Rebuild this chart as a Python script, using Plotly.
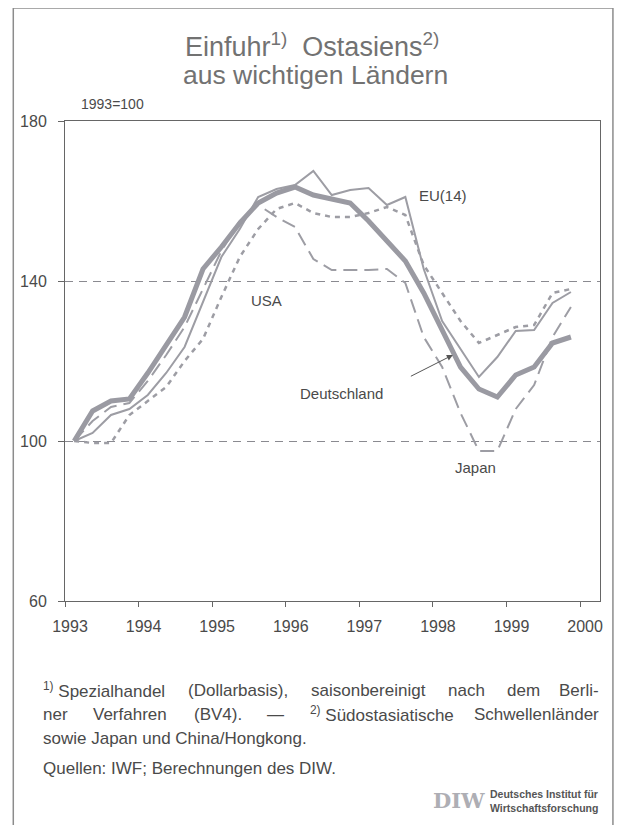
import plotly.graph_objects as go

# quarterly observations (mid-quarter positions), 1993 Q1 .. 1999 Q4
quarters = [1993.125, 1993.375, 1993.625, 1993.875,
            1994.125, 1994.375, 1994.625, 1994.875,
            1995.125, 1995.375, 1995.625, 1995.875,
            1996.125, 1996.375, 1996.625, 1996.875,
            1997.125, 1997.375, 1997.625, 1997.875,
            1998.125, 1998.375, 1998.625, 1998.875,
            1999.125, 1999.375, 1999.625, 1999.875]

deutschland = [100, 107.5, 110, 110.5, 117, 124, 131, 143, 148.5, 154.5, 159.5, 162,
               163.5, 161.5, 160.5, 159.5, 155, 150, 145, 137, 128, 118.5, 113, 111,
               116.5, 118.5, 124.5, 126]
eu14 = [100, 102, 106.5, 108, 111.5, 117, 123.5, 135, 146, 153, 161, 163,
        164, 167.5, 161.5, 162.75, 163.25, 159, 161, 143, 130, 123, 116, 121,
        127.5, 127.75, 134.5, 137.25]
usa = [100, 99.5, 99.5, 106.5, 110, 113.5, 120, 125.5, 136, 146, 153, 158,
       159.5, 157, 156, 156, 157, 158.5, 156.5, 144, 137, 130, 124.5, 126.5,
       128.5, 129, 137, 138]
japan = [100, 105, 108.5, 109.5, 115, 121.5, 128.5, 138, 147.5, 155, 159, 156,
         153.5, 145.5, 142.75, 142.75, 142.75, 143, 139.5, 126, 118.5, 107, 97.5, 97.5,
         108, 114, 126, 133.5]

year_ticks = [1993, 1994, 1995, 1996, 1997, 1998, 1999, 2000]
year_labels = ["1993", "1994", "1995", "1996", "1997", "1998", "1999", "2000"]
y_ticks = [60, 100, 140, 180]
y_labels = ["60", "100", "140", "180"]

LINE = "#9d9da4"
TXT = "#4a4a4a"
FONT = "Liberation Sans, Arial, sans-serif"

fig = go.Figure()
fig.add_trace(go.Scatter(x=quarters, y=japan, mode="lines", name="Japan",
                         line=dict(color=LINE, width=2, dash="14px,7px")))
fig.add_trace(go.Scatter(x=quarters, y=usa, mode="lines", name="USA",
                         line=dict(color=LINE, width=2.5, dash="5px,5px")))
fig.add_trace(go.Scatter(x=quarters, y=eu14, mode="lines", name="EU(14)",
                         line=dict(color=LINE, width=2)))
fig.add_trace(go.Scatter(x=quarters, y=deutschland, mode="lines", name="Deutschland",
                         line=dict(color="#9a9aa2", width=5)))

# page has an 8px body margin; plot area on page: x 62..600, y 121..601
OFF = 8
W, H = 623 - OFF, 825 - OFF
PL, PT, PW, PH = 62, 121, 538, 480
L, T = PL - OFF, PT - OFF
R, B = W - L - PW, H - T - PH


def px(x):
    return (x - PL) / PW


def py(y):
    return (PT + PH - y) / PH


fig.update_layout(
    width=W, height=H,
    margin=dict(l=L, r=R, t=T, b=B, pad=0),
    paper_bgcolor="white", plot_bgcolor="white",
    showlegend=False,
    font=dict(family=FONT, color=TXT, size=16),
    xaxis=dict(range=[1993, 1993 + PW / 74.0], tickvals=year_ticks, ticktext=year_labels,
               showgrid=False, zeroline=False, showline=True, mirror=True,
               linecolor="#666", linewidth=1, ticks="outside", ticklen=5,
               tickcolor="#666", tickfont=dict(size=16, color=TXT),
               ticklabelshift=5, ticklabelstandoff=6),
    yaxis=dict(range=[60, 180], tickvals=y_ticks, ticktext=y_labels,
               showgrid=True, gridcolor="#8a8a90", griddash="8px,6px", gridwidth=1,
               zeroline=False, showline=True, mirror=True,
               linecolor="#666", linewidth=1, ticks="outside", ticklen=6,
               tickcolor="#666", tickfont=dict(size=16, color=TXT),
               ticklabelstandoff=8),
)

# Arial / Liberation Sans advance widths (1/1000 em) for text justification
CW = {" ": 278, "a": 556, "b": 556, "c": 500, "d": 556, "e": 556, "f": 278, "g": 556,
      "h": 556, "i": 222, "j": 222, "k": 500, "l": 222, "m": 833, "n": 556, "o": 556,
      "p": 556, "q": 556, "r": 333, "s": 500, "t": 278, "u": 556, "v": 500, "w": 722,
      "x": 500, "y": 500, "z": 500, "ü": 556, "ä": 556, "B": 667, "C": 722, "D": 722,
      "F": 611, "H": 722, "I": 278, "J": 500, "S": 667, "V": 667, "W": 944, "Q": 778,
      "(": 333, ")": 333, ",": 278, ".": 278, "-": 333, "/": 278, ";": 278, ":": 278,
      "—": 1000}


def tw(s, size):
    return sum(CW.get(c, 556) for c in s) / 1000.0 * size


FS = 17
ann = []


def justified(tokens, y, x0=38, x1=601):
    # tokens: list of (markup, width)
    total = sum(w for _, w in tokens)
    gap = (x1 - x0 - total) / (len(tokens) - 1)
    x = x0
    for k, (t, w) in enumerate(tokens):
        last = k == len(tokens) - 1
        ann.append(dict(text=t, x=px(x1 if last else x), y=py(y), xref="paper", yref="paper",
                        xanchor="right" if last else "left", yanchor="middle",
                        showarrow=False, font=dict(size=FS, color=TXT)))
        x += w + gap


def plain(words):
    return [(w, tw(w, FS)) for w in words]


sup1 = ("<sup>1)</sup> Spezialhandel", tw("1)", FS) * 0.7 + tw(" Spezialhandel", FS))
justified([sup1] + plain(["(Dollarbasis),", "saisonbereinigt", "nach", "dem", "Berli-"]), 690)
sup2 = ("<sup>2)</sup> Südostasiatische", tw("2)", FS) * 0.7 + tw(" Südostasiatische", FS))
justified(plain(["ner", "Verfahren", "(BV4).", "—"]) + [sup2] + plain(["Schwellenländer"]), 714)
ann.append(dict(text="sowie Japan und China/Hongkong.", x=px(38), y=py(738), xref="paper",
                yref="paper", xanchor="left", yanchor="middle", showarrow=False,
                font=dict(size=FS, color=TXT)))
ann.append(dict(text="Quellen: IWF; Berechnungen des DIW.", x=px(38), y=py(768), xref="paper",
                yref="paper", xanchor="left", yanchor="middle", showarrow=False,
                font=dict(size=FS, color=TXT)))

# title
ann.append(dict(text="Einfuhr<sup>1)</sup>\u00a0 Ostasiens<sup>2)</sup>", x=px(310), y=py(45),
                xref="paper", yref="paper", xanchor="center", yanchor="middle", showarrow=False,
                font=dict(size=27, color="#727272")))
ann.append(dict(text="aus wichtigen Ländern", x=px(314), y=py(75),
                xref="paper", yref="paper", xanchor="center", yanchor="middle", showarrow=False,
                font=dict(size=26.5, color="#727272")))
ann.append(dict(text="1993=100", x=px(76), y=py(104), xref="paper", yref="paper",
                xanchor="left", yanchor="middle", showarrow=False, font=dict(size=14, color=TXT)))

# series labels
for t, xv, yv in [("EU(14)", 1998.135, 161.5), ("USA", 1995.74, 135.25),
                  ("Deutschland", 1996.76, 112), ("Japan", 1998.58, 93.5)]:
    ann.append(dict(text=t, x=xv, y=yv, xanchor="center", yanchor="middle", showarrow=False,
                    font=dict(size=15, color=TXT)))
ann.append(dict(text="", x=1998.27, y=121.5, ax=1997.68, ay=116, axref="x", ayref="y",
                showarrow=True, arrowhead=2, arrowsize=1.2, arrowwidth=1, arrowcolor="#555"))

# DIW logo
ann.append(dict(text="<b>DIW</b>", x=px(458), y=py(800), xref="paper", yref="paper",
                xanchor="center", yanchor="middle", showarrow=False,
                font=dict(size=21, color="#aeaeb4", family="DejaVu Serif, serif")))
ann.append(dict(text="<b>Deutsches Institut für</b><br><b>Wirtschaftsforschung</b>", x=px(487),
                y=py(801), xref="paper", yref="paper", xanchor="left", yanchor="middle",
                align="left", showarrow=False, font=dict(size=10.5, color="#555")))
fig.update_layout(annotations=ann)

# outer frame
frame = dict(type="line", xref="paper", yref="paper", line=dict(color="#8c8c8c", width=1.5))
fig.add_shape(**frame, x0=px(10), x1=px(613), y0=py(8), y1=py(8))
fig.add_shape(**frame, x0=px(10), x1=px(10), y0=py(8), y1=py(830))
fig.add_shape(**frame, x0=px(613), x1=px(613), y0=py(8), y1=py(830))

fig.write_html("out.html")
